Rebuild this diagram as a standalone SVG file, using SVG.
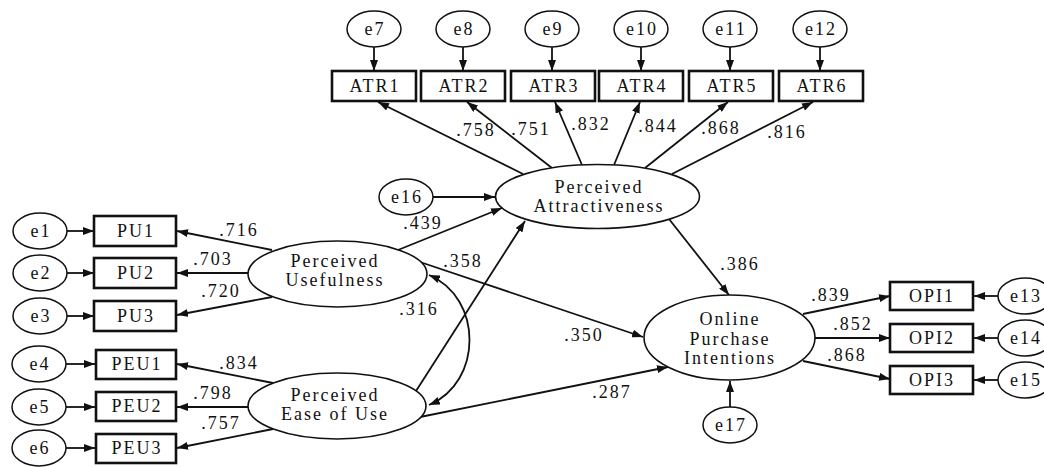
<svg xmlns="http://www.w3.org/2000/svg" width="1044" height="467" viewBox="0 0 1044 467">
<style>
text{font-family:"Liberation Serif","Times New Roman",serif;font-size:18px;letter-spacing:2px;fill:#111;text-anchor:middle}
.box{fill:#fff;stroke:#111;stroke-width:2.6}
.lat{fill:#fff;stroke:#111;stroke-width:1.6}
.err{fill:#fff;stroke:#111;stroke-width:1.5}
.c line,.c path{stroke:#111;stroke-width:1.8;fill:none;marker-end:url(#ah)}
.c path.dbl{marker-start:url(#ah)}
</style>
<defs>
<marker id="ah" viewBox="0 0 11 8" refX="11" refY="4" markerWidth="11" markerHeight="8" markerUnits="userSpaceOnUse" orient="auto-start-reverse"><path d="M0,0 L11,4 L0,8 z" fill="#111"/></marker>
</defs>
<rect width="1044" height="467" fill="#fff"/>

<g id="connectors" class="c">
<line x1="374" y1="47" x2="374" y2="71"/>
<line x1="463" y1="47" x2="463" y2="71"/>
<line x1="552" y1="47" x2="552" y2="71"/>
<line x1="641" y1="47" x2="641" y2="71"/>
<line x1="730" y1="47" x2="730" y2="71"/>
<line x1="820" y1="47" x2="820" y2="71"/>
<line x1="523" y1="174" x2="378" y2="102"/>
<line x1="552" y1="168" x2="467" y2="102"/>
<line x1="582" y1="165" x2="555" y2="102"/>
<line x1="614" y1="165" x2="640" y2="102"/>
<line x1="645" y1="168" x2="728" y2="102"/>
<line x1="672" y1="174" x2="813" y2="102"/>
<line x1="67" y1="231" x2="94" y2="231"/>
<line x1="67" y1="273" x2="94" y2="273"/>
<line x1="67" y1="316" x2="94" y2="316"/>
<line x1="66" y1="364" x2="95" y2="364"/>
<line x1="66" y1="407" x2="95" y2="407"/>
<line x1="66" y1="448" x2="95" y2="448"/>
<line x1="272" y1="250" x2="177" y2="231"/>
<line x1="248" y1="273" x2="177" y2="273"/>
<line x1="272" y1="297" x2="177" y2="315"/>
<line x1="273" y1="383" x2="177" y2="364"/>
<line x1="248" y1="407" x2="177" y2="407"/>
<line x1="273" y1="429" x2="177" y2="448"/>
<line x1="433" y1="197" x2="495" y2="197"/>
<line x1="398" y1="250" x2="502" y2="208"/>
<line x1="416" y1="391" x2="525" y2="221"/>
<line x1="420" y1="262" x2="643" y2="337"/>
<line x1="420" y1="417" x2="668" y2="367"/>
<line x1="669" y1="219" x2="729" y2="295"/>
<line x1="730" y1="407" x2="730" y2="381"/>
<path class="dbl" d="M429,275 C483,298 483,382 429,405"/>
<line x1="803" y1="314" x2="890" y2="296"/>
<line x1="815" y1="338" x2="890" y2="338"/>
<line x1="803" y1="361" x2="890" y2="379"/>
<line x1="998" y1="296" x2="974" y2="296"/>
<line x1="998" y1="338" x2="974" y2="338"/>
<line x1="998" y1="380" x2="974" y2="380"/>
</g>

<g id="e7"><ellipse class="err" cx="374" cy="29" rx="27" ry="18"/><text x="375" y="35">e7</text></g>
<g id="e8"><ellipse class="err" cx="463" cy="29" rx="27" ry="18"/><text x="464" y="35">e8</text></g>
<g id="e9"><ellipse class="err" cx="552" cy="29" rx="27" ry="18"/><text x="553" y="35">e9</text></g>
<g id="e10"><ellipse class="err" cx="641" cy="29" rx="27" ry="18"/><text x="642" y="35">e10</text></g>
<g id="e11"><ellipse class="err" cx="730" cy="29" rx="27" ry="18"/><text x="731" y="35">e11</text></g>
<g id="e12"><ellipse class="err" cx="820" cy="29" rx="27" ry="18"/><text x="821" y="35">e12</text></g>

<g id="ATR1"><rect class="box" x="332" y="71" width="84" height="30"/><text x="375" y="92">ATR1</text></g>
<g id="ATR2"><rect class="box" x="421" y="71" width="84" height="30"/><text x="464" y="92">ATR2</text></g>
<g id="ATR3"><rect class="box" x="511" y="71" width="84" height="30"/><text x="554" y="92">ATR3</text></g>
<g id="ATR4"><rect class="box" x="599" y="71" width="84" height="30"/><text x="642" y="92">ATR4</text></g>
<g id="ATR5"><rect class="box" x="689" y="71" width="84" height="30"/><text x="732" y="92">ATR5</text></g>
<g id="ATR6"><rect class="box" x="779" y="71" width="84" height="30"/><text x="822" y="92">ATR6</text></g>

<g id="e1"><ellipse class="err" cx="40" cy="231" rx="27" ry="18"/><text x="41" y="237">e1</text></g>
<g id="e2"><ellipse class="err" cx="40" cy="273" rx="27" ry="18"/><text x="41" y="279">e2</text></g>
<g id="e3"><ellipse class="err" cx="40" cy="316" rx="27" ry="18"/><text x="41" y="322">e3</text></g>
<g id="e4"><ellipse class="err" cx="39" cy="364" rx="27" ry="18"/><text x="40" y="370">e4</text></g>
<g id="e5"><ellipse class="err" cx="39" cy="407" rx="27" ry="18"/><text x="40" y="413">e5</text></g>
<g id="e6"><ellipse class="err" cx="39" cy="448" rx="27" ry="18"/><text x="40" y="454">e6</text></g>

<g id="PU1"><rect class="box" x="94" y="216" width="82" height="30"/><text x="136" y="237">PU1</text></g>
<g id="PU2"><rect class="box" x="94" y="258" width="82" height="30"/><text x="136" y="279">PU2</text></g>
<g id="PU3"><rect class="box" x="94" y="301" width="82" height="30"/><text x="136" y="322">PU3</text></g>
<g id="PEU1"><rect class="box" x="96" y="350" width="80" height="29"/><text x="137" y="370">PEU1</text></g>
<g id="PEU2"><rect class="box" x="96" y="392" width="80" height="29"/><text x="137" y="412">PEU2</text></g>
<g id="PEU3"><rect class="box" x="96" y="434" width="80" height="29"/><text x="137" y="454">PEU3</text></g>

<g id="e16"><ellipse class="err" cx="406" cy="197" rx="27" ry="18"/><text x="407" y="203">e16</text></g>
<g id="PA"><ellipse class="lat" cx="597.5" cy="196.5" rx="102" ry="32"/><text x="599" y="193">Perceived</text><text x="599" y="212">Attractiveness</text></g>
<g id="PU"><ellipse class="lat" cx="337.5" cy="274" rx="89.5" ry="33"/><text x="335" y="267">Perceived</text><text x="335" y="286">Usefulness</text></g>
<g id="PEU"><ellipse class="lat" cx="337" cy="406" rx="89" ry="33"/><text x="335" y="401">Perceived</text><text x="335" y="420">Ease of Use</text></g>
<g id="OPI"><ellipse class="lat" cx="729.5" cy="337.5" rx="85.5" ry="42.5"/><text x="730" y="325">Online</text><text x="730" y="345">Purchase</text><text x="730" y="364">Intentions</text></g>
<g id="e17"><ellipse class="err" cx="730" cy="425" rx="27" ry="18"/><text x="731" y="431">e17</text></g>

<g id="OPI1"><rect class="box" x="890" y="282" width="83" height="28"/><text x="932" y="302">OPI1</text></g>
<g id="OPI2"><rect class="box" x="890" y="324" width="83" height="28"/><text x="932" y="344">OPI2</text></g>
<g id="OPI3"><rect class="box" x="890" y="366" width="83" height="28"/><text x="932" y="386">OPI3</text></g>
<g id="e13"><ellipse class="err" cx="1025" cy="296" rx="27" ry="18"/><text x="1026" y="302">e13</text></g>
<g id="e14"><ellipse class="err" cx="1025" cy="338" rx="27" ry="18"/><text x="1026" y="344">e14</text></g>
<g id="e15"><ellipse class="err" cx="1025" cy="380" rx="27" ry="18"/><text x="1026" y="386">e15</text></g>

<g id="labels">
<text x="476" y="136">.758</text>
<text x="531" y="135">.751</text>
<text x="591" y="130">.832</text>
<text x="658" y="132">.844</text>
<text x="721" y="134">.868</text>
<text x="787" y="138">.816</text>
<text x="239" y="236">.716</text>
<text x="213" y="265">.703</text>
<text x="221" y="297">.720</text>
<text x="239" y="369">.834</text>
<text x="213" y="399">.798</text>
<text x="221" y="429">.757</text>
<text x="423" y="229">.439</text>
<text x="463" y="267">.358</text>
<text x="419" y="315">.316</text>
<text x="584" y="341">.350</text>
<text x="612" y="398">.287</text>
<text x="740" y="270">.386</text>
<text x="831" y="301">.839</text>
<text x="853" y="330">.852</text>
<text x="847" y="361">.868</text>
</g>
</svg>
